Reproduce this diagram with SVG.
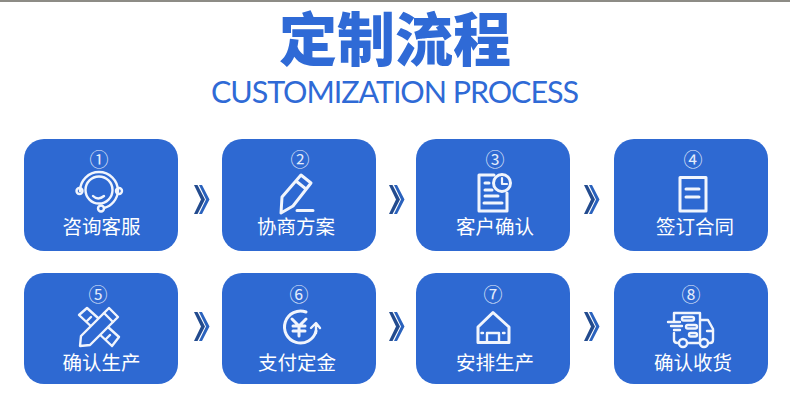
<svg xmlns="http://www.w3.org/2000/svg" width="790" height="404" viewBox="0 0 790 404">
<style>
.card{fill:#2e69d2}
.num{font:400 19px "Noto Sans CJK SC","Noto Sans",sans-serif;fill:#e3ecfb;text-anchor:middle}
.lbl{font:400 19.500px "Noto Sans CJK SC","Noto Sans",sans-serif;fill:#fff;text-anchor:middle}
.ic{fill:none;stroke:#f1f5fd;stroke-width:2.400;stroke-linecap:round;stroke-linejoin:round}
.th{stroke-width:3}
.fc{fill:#2e69d2}
.title{font:900 58px "Noto Sans CJK SC",sans-serif;fill:#2f6ad6;text-anchor:middle}
.sub{font:400 30.500px "Lato","Noto Sans",sans-serif;fill:#2f6ad6;text-anchor:middle}
.c1{fill:#234b8e}.c2{fill:#2a62bd}
</style>
<defs>
<g id="chev">
<polygon class="c1" points="0,0 3.500,0 11,14.500 3.500,29 0,29 7,14.500"/>
<polygon class="c2" points="5,0 8,0 15.500,14.500 8,29 5,29 12,14.500"/>
</g>
</defs>
<rect width="790" height="404" fill="#fff"/>
<rect width="790" height="2" fill="#8d8c86"/>
<text class="title" x="395" y="61">定制流程</text>
<text class="sub" x="395" y="103" textLength="368" lengthAdjust="spacing">CUSTOMIZATION PROCESS</text>
<g id="connectors">
<use href="#chev" x="194" y="185"/><use href="#chev" x="389" y="185"/><use href="#chev" x="584" y="185"/>
<use href="#chev" x="194" y="312"/><use href="#chev" x="389" y="312"/><use href="#chev" x="584" y="312"/>
</g>
<g id="n1"><rect class="card" x="24" y="139" width="154" height="112" rx="20"/>
<text class="num" x="99" y="167">①</text>
<g class="ic"><circle cx="99" cy="190" r="13.500"/><path d="M80 191A19 19 0 0 1 118 191A19 19 0 0 1 104 208"/><circle cx="79.500" cy="191" r="3"/><circle cx="119" cy="191" r="3"/><circle cx="101" cy="208.500" r="3"/><path d="M93 196Q98 201 104 196"/></g>
<text class="lbl" x="101.500" y="234">咨询客服</text></g>
<g id="n2"><rect class="card" x="222" y="139" width="154" height="112" rx="20"/>
<text class="num" x="300" y="167">②</text>
<g class="ic th"><path d="M281 213L282 197L301 175L311 183L293 206ZM296 181L306 189M297 210.500H313"/></g>
<text class="lbl" x="296" y="234">协商方案</text></g>
<g id="n3"><rect class="card" x="416" y="139" width="154" height="112" rx="20"/>
<text class="num" x="495" y="167">③</text>
<g class="ic th"><path d="M494 175H479V211H507V193M485 183H489M485 190H492M485 196H498M484 203H502"/><circle class="fc" cx="502" cy="183" r="8.500"/><path stroke-width="2.200" d="M502 178V184H507"/></g>
<text class="lbl" x="495" y="234">客户确认</text></g>
<g id="n4"><rect class="card" x="614" y="139" width="154" height="112" rx="20"/>
<text class="num" x="693" y="167">④</text>
<g class="ic th"><rect x="680" y="177.500" width="26" height="33.500"/><path d="M686 189H699M686 197H699"/></g>
<text class="lbl" x="695" y="234">签订合同</text></g>
<g id="n5"><rect class="card" x="24" y="273" width="154" height="111" rx="20"/>
<text class="num" x="98" y="302">⑤</text>
<g class="ic"><path d="M79 315L87 308L119 337L112 346ZM87 321L91 317M93 327L97 323M100 333L104 329M106 339L110 335"/><path class="fc" d="M80 346L81 336L109 308L118 317L90 345Z"/><path d="M104 313L113 322"/></g>
<text class="lbl" x="101.500" y="370">确认生产</text></g>
<g id="n6"><rect class="card" x="222" y="273" width="154" height="111" rx="20"/>
<text class="num" x="299" y="302">⑥</text>
<g class="ic th"><path d="M306 312A16 16 0 1 0 316 331"/><path stroke-width="2.400" d="M311 328L316 323L320 328M316 324V333"/><path d="M292 319L299 326L306 319M299 326V336M293 326H305M293 331H305"/></g>
<text class="lbl" x="297" y="370">支付定金</text></g>
<g id="n7"><rect class="card" x="416" y="273" width="154" height="111" rx="20"/>
<text class="num" x="493" y="302">⑦</text>
<g class="ic th"><path d="M478 342.500V327L493 312.500L509 327V342.500Z"/><path stroke-width="2.400" d="M487 342.500V333H499V342.500M481.500 333H483M503 333H504.500"/></g>
<text class="lbl" x="495" y="370">安排生产</text></g>
<g id="n8"><rect class="card" x="614" y="273" width="154" height="111" rx="20"/>
<text class="num" x="691" y="302">⑧</text>
<g class="ic"><path d="M674 322V313H700V343H688M680 343H678Q674 343 674 340V333M700 320H708L713 329V340Q713 343 710 343H708M668 322H680M671 326H682M674 330H680"/><rect x="682" y="317" width="12" height="3.500" rx="1.700"/><rect x="686" y="325" width="11" height="3.500" rx="1.700"/><rect x="689" y="333" width="8" height="3.500" rx="1.700"/><circle class="fc" cx="683" cy="343" r="4"/><circle class="fc" cx="704" cy="343" r="4"/><path d="M707 331H713"/></g>
<text class="lbl" x="693" y="370">确认收货</text></g>
</svg>
